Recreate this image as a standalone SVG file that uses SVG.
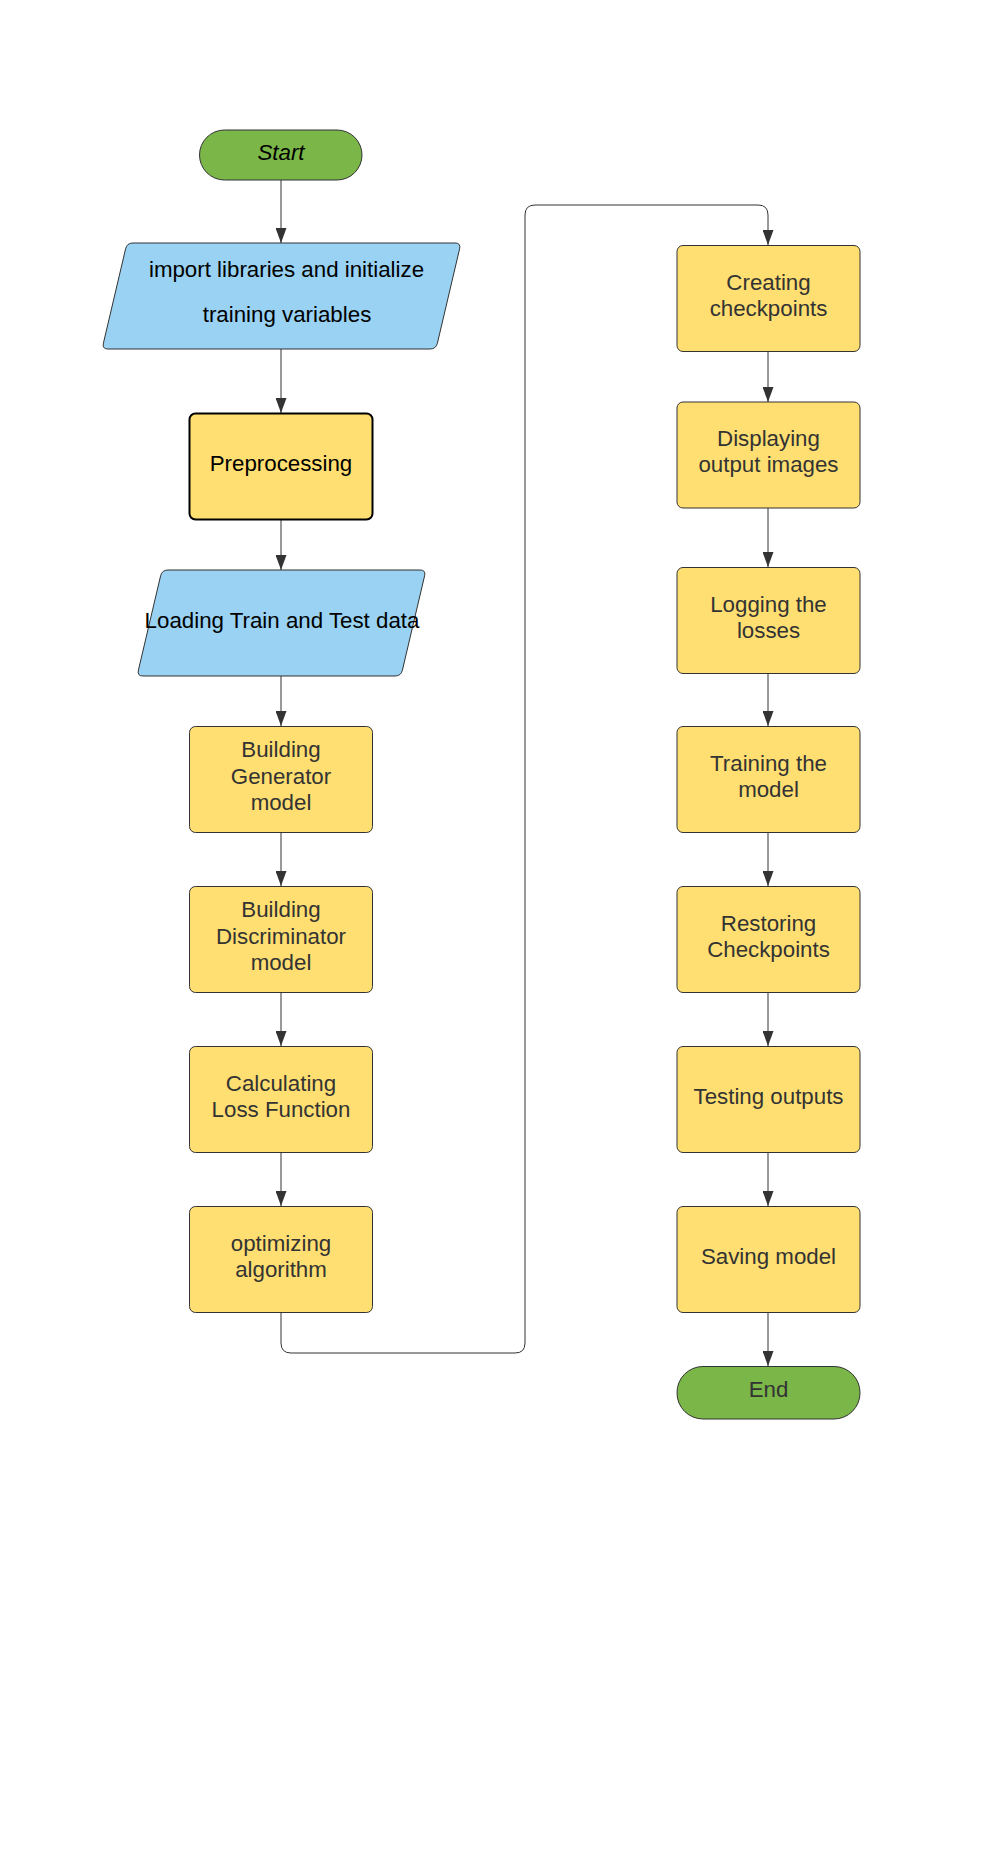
<svg xmlns="http://www.w3.org/2000/svg" width="1001" height="1852" viewBox="0 0 1001 1852">
<defs>
<style>
.t{font-family:"Liberation Sans",Arial,sans-serif;font-size:22.3px;text-anchor:middle;fill:#333}
.k{fill:#000}
.box{fill:#FFDF71;stroke:#333;stroke-width:1}
.term{fill:#7AB648;stroke:#333;stroke-width:1}
.io{fill:#99D2F2;stroke:#333;stroke-width:1}
.c{fill:none;stroke:#333;stroke-width:1}
</style>
<marker id="arr" markerUnits="userSpaceOnUse" viewBox="0 0 15 11" refX="15" refY="5.5" markerWidth="15" markerHeight="11" orient="auto">
<path d="M0,0 L15,5.5 L0,11 Z" fill="#333"/>
</marker>
</defs>
<rect width="1001" height="1852" fill="#fff"/>
<g id="connectors">
<path class="c" d="M281,180 V243" marker-end="url(#arr)"/>
<path class="c" d="M281,349 V413" marker-end="url(#arr)"/>
<path class="c" d="M281,520 V570" marker-end="url(#arr)"/>
<path class="c" d="M281,676 V726" marker-end="url(#arr)"/>
<path class="c" d="M281,833 V886" marker-end="url(#arr)"/>
<path class="c" d="M281,993 V1046" marker-end="url(#arr)"/>
<path class="c" d="M281,1153 V1206" marker-end="url(#arr)"/>
<path class="c" d="M281,1313 V1343 Q281,1353 291,1353 H515 Q525,1353 525,1343 V215 Q525,205 535,205 H758 Q768,205 768,215 V245" marker-end="url(#arr)"/>
<path class="c" d="M768,352 V402" marker-end="url(#arr)"/>
<path class="c" d="M768,508 V567" marker-end="url(#arr)"/>
<path class="c" d="M768,673 V726" marker-end="url(#arr)"/>
<path class="c" d="M768,833 V886" marker-end="url(#arr)"/>
<path class="c" d="M768,993 V1046" marker-end="url(#arr)"/>
<path class="c" d="M768,1153 V1206" marker-end="url(#arr)"/>
<path class="c" d="M768,1313 V1366" marker-end="url(#arr)"/>
</g>
<g id="start">
<rect class="term" x="199.5" y="130" width="162.5" height="50" rx="25"/>
<text class="t k" x="281" y="159.5" font-style="italic">Start</text>
</g>
<g id="import">
<path class="io" d="M133,243 H455 Q461,243 459.6,248.8 L437.4,343.2 Q436,349 430,349 H108 Q102,349 103.4,343.2 L125.6,248.8 Q127,243 133,243 Z"/>
<text class="t k" x="286.5" y="277">import libraries and initialize</text>
<text class="t k" x="287" y="322">training variables</text>
</g>
<g id="preprocessing">
<rect x="189.5" y="413.5" width="183" height="106" rx="6" fill="#FFDF71" stroke="#000" stroke-width="2"/>
<text class="t k" x="281" y="471">Preprocessing</text>
</g>
<g id="loading">
<path class="io" d="M168,570 H420 Q426,570 424.6,575.8 L402.4,670.2 Q401,676 395,676 H143 Q137,676 138.4,670.2 L160.6,575.8 Q162,570 168,570 Z"/>
<text class="t k" x="282" y="627.5">Loading Train and Test data</text>
</g>
<g id="generator">
<rect class="box" x="189.5" y="726.5" width="183" height="106" rx="6"/>
<text class="t" x="281" y="757.3">Building</text>
<text class="t" x="281" y="783.5">Generator</text>
<text class="t" x="281" y="810">model</text>
</g>
<g id="discriminator">
<rect class="box" x="189.5" y="886.5" width="183" height="106" rx="6"/>
<text class="t" x="281" y="917.3">Building</text>
<text class="t" x="281" y="943.5">Discriminator</text>
<text class="t" x="281" y="970">model</text>
</g>
<g id="loss">
<rect class="box" x="189.5" y="1046.5" width="183" height="106" rx="6"/>
<text class="t" x="281" y="1090.5">Calculating</text>
<text class="t" x="281" y="1116.8">Loss Function</text>
</g>
<g id="optimizing">
<rect class="box" x="189.5" y="1206.5" width="183" height="106" rx="6"/>
<text class="t" x="281" y="1250.5">optimizing</text>
<text class="t" x="281" y="1276.7">algorithm</text>
</g>
<g id="checkpoints">
<rect class="box" x="677" y="245.5" width="183" height="106" rx="6"/>
<text class="t" x="768.5" y="289.5">Creating</text>
<text class="t" x="768.5" y="315.8">checkpoints</text>
</g>
<g id="displaying">
<rect class="box" x="677" y="402" width="183" height="106" rx="6"/>
<text class="t" x="768.5" y="446">Displaying</text>
<text class="t" x="768.5" y="472.3">output images</text>
</g>
<g id="logging">
<rect class="box" x="677" y="567.5" width="183" height="106" rx="6"/>
<text class="t" x="768.5" y="611.8">Logging the</text>
<text class="t" x="768.5" y="638">losses</text>
</g>
<g id="training">
<rect class="box" x="677" y="726.5" width="183" height="106" rx="6"/>
<text class="t" x="768.5" y="770.8">Training the</text>
<text class="t" x="768.5" y="797">model</text>
</g>
<g id="restoring">
<rect class="box" x="677" y="886.5" width="183" height="106" rx="6"/>
<text class="t" x="768.5" y="930.7">Restoring</text>
<text class="t" x="768.5" y="957">Checkpoints</text>
</g>
<g id="testing">
<rect class="box" x="677" y="1046.5" width="183" height="106" rx="6"/>
<text class="t" x="768.5" y="1104">Testing outputs</text>
</g>
<g id="saving">
<rect class="box" x="677" y="1206.5" width="183" height="106" rx="6"/>
<text class="t" x="768.5" y="1264">Saving model</text>
</g>
<g id="end">
<rect class="term" x="677" y="1366.5" width="183" height="52.5" rx="26"/>
<text class="t" x="768.5" y="1397.3">End</text>
</g>
</svg>
